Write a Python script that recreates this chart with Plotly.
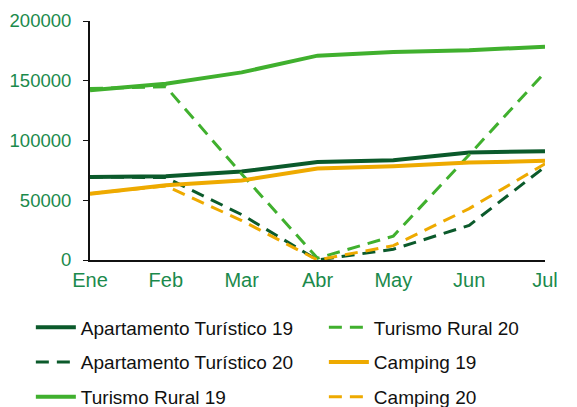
import plotly.graph_objects as go

months = ["Ene", "Feb", "Mar", "Abr", "May", "Jun", "Jul"]

apart_19 = [69500, 70000, 74000, 82000, 83500, 90000, 91000]
apart_20 = [69500, 69000, 38000, 0, 9000, 29000, 78000]
rural_19 = [142000, 147500, 157000, 171000, 174000, 175500, 178500]
rural_20 = [143500, 145000, 72000, 1500, 20000, 88000, 157000]
camping_19 = [55500, 62500, 66500, 76500, 78500, 81500, 83000]
camping_20 = [55500, 62000, 33000, 0, 12000, 43000, 80500]

DARK = "#0b5a2b"
LIGHT = "#40b02e"
GOLD = "#eeaa00"
TICK = "#1b8a4c"
DASH = "13px,8px"

# (name, values, colour, dash, which legend column)
series = [
    ("Apartamento Turístico 19", apart_19, DARK, "solid", "legend"),
    ("Apartamento Turístico 20", apart_20, DARK, DASH, "legend"),
    ("Turismo Rural 19", rural_19, LIGHT, "solid", "legend"),
    ("Turismo Rural 20", rural_20, LIGHT, DASH, "legend2"),
    ("Camping 19", camping_19, GOLD, "solid", "legend2"),
    ("Camping 20", camping_20, GOLD, DASH, "legend2"),
]

fig = go.Figure()
for name, vals, color, dash, leg in series:
    fig.add_trace(go.Scatter(x=months, y=vals, mode="lines", name=name,
                             legend=leg, legendgroup=name,
                             line=dict(color=color, width=4 if dash == "solid" else 3, dash=dash)))

leg_style = dict(orientation="v", yref="paper", xanchor="left", yanchor="top",
                 y=-0.2025, tracegroupgap=7, itemwidth=40,
                 font=dict(size=19, color="#111111"), bgcolor="rgba(0,0,0,0)")

# page has an 8px body margin, so the figure is 8px smaller than the window
fig.update_layout(
    width=569, height=399,
    margin=dict(l=82, r=32, t=13, b=147, autoexpand=False),
    paper_bgcolor="white", plot_bgcolor="white",
    font=dict(family="Liberation Sans, Arial, sans-serif", size=19, color="#111111"),
    showlegend=True,
    legend=dict(x=-0.13, **leg_style),
    legend2=dict(x=0.514, **leg_style),
)
fig.update_xaxes(showgrid=False, showline=True, linecolor="#111111", linewidth=2,
                 ticks="", tickfont=dict(color=TICK, size=20), range=[0, 6],
                 ticklabelstandoff=1)
fig.update_yaxes(showgrid=False, showline=True, linecolor="#111111", linewidth=2,
                 ticks="outside", ticklen=5, tickcolor="#111111", range=[0, 200000],
                 dtick=50000, tickformat="d", zeroline=False, ticklabelstandoff=8,
                 tickfont=dict(color=TICK, size=18.5))

fig.write_html("out.html")
